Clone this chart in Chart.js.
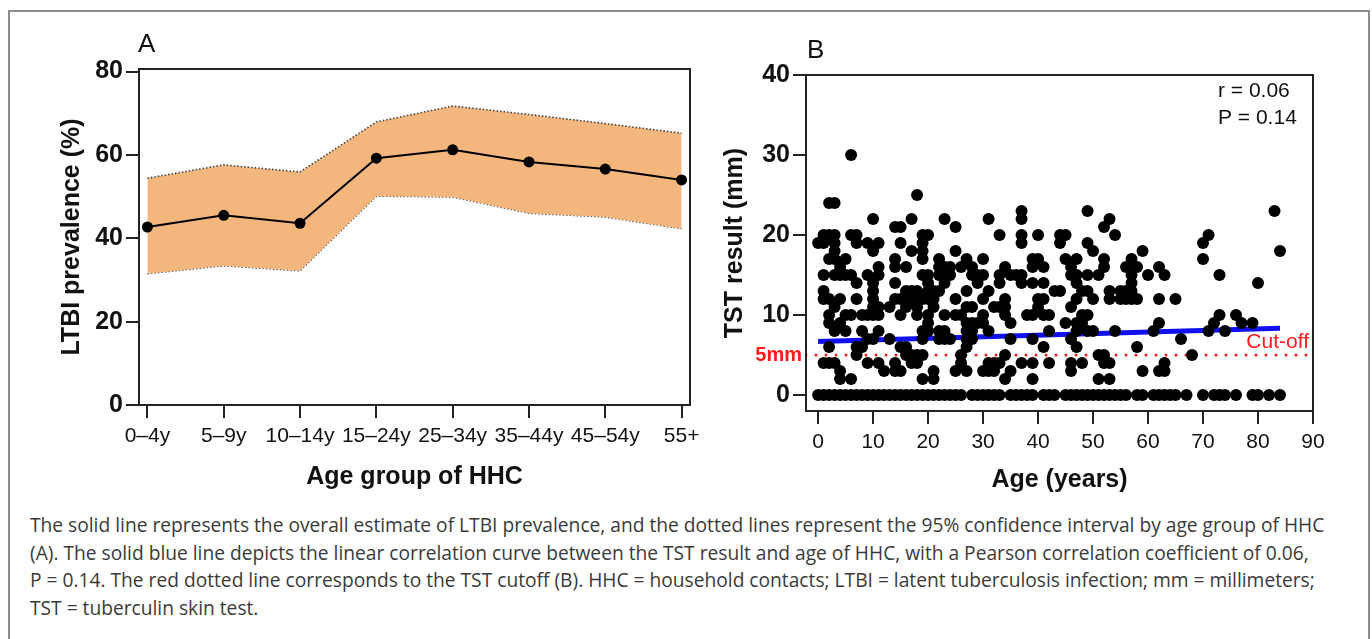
<!DOCTYPE html>
<html>
<head>
<meta charset="utf-8">
<script src="https://cdn.jsdelivr.net/npm/chart.js@4/dist/chart.umd.min.js"></script>
<style>
  html, body { margin: 0; padding: 0; background: #fff; }
  body { width: 1372px; height: 639px; position: relative; overflow: hidden; }
  .frame { position: absolute; left: 8px; top: 10px; width: 1358px; height: 700px; border: 2px solid #8c8c8c; }
  canvas { position: absolute; top: 0; }
  #chartA { left: 0; }
  #chartB { left: 700px; }
  .caption { position: absolute; left: 30px; top: 511px; font-family: "Open Sans", sans-serif; font-size: 19.2px; line-height: 27.7px; color: #3a3a3a; white-space: nowrap; }
</style>
</head>
<body>
<div class="frame"></div>
<canvas id="chartA" width="720" height="500"></canvas>
<canvas id="chartB" width="672" height="500"></canvas>
<div class="caption">
  <div>The solid line represents the overall estimate of LTBI prevalence, and the dotted lines represent the 95% confidence interval by age group of HHC</div>
  <div>(A). The solid blue line depicts the linear correlation curve between the TST result and age of HHC, with a Pearson correlation coefficient of 0.06,</div>
  <div>P = 0.14. The red dotted line corresponds to the TST cutoff (B). HHC = household contacts; LTBI = latent tuberculosis infection; mm = millimeters;</div>
  <div>TST = tuberculin skin test.</div>
</div>
<script>
// ---- Panel A: LTBI prevalence by age group ----
const ageGroups = ['0–4y', '5–9y', '10–14y', '15–24y', '25–34y', '35–44y', '45–54y', '55+'];
const prevalence = [42.7, 45.5, 43.6, 59.2, 61.2, 58.3, 56.6, 54.0];
const upperCI = [54.4, 57.6, 55.9, 67.9, 71.7, 69.7, 67.5, 65.2];
const lowerCI = [31.5, 33.4, 32.2, 50.1, 49.9, 46.0, 45.1, 42.3];
const prevTicks = [0, 20, 40, 60, 80];

// ---- Panel B: TST result vs age (one entry per household contact) ----
const ageYears = [
  0, 1, 1, 1, 1, 1, 1,
  2, 2, 2, 2, 2, 2, 2, 2,
  3, 3, 3, 3, 3, 3, 3, 3, 3,
  4, 4, 4, 4, 4, 4,
  5, 5, 5, 5,
  6, 6, 6, 6, 6,
  7, 7, 7, 7, 7, 7,
  8, 8, 8,
  9, 9, 9, 9, 9,
  10, 10, 10, 10, 10, 10, 10, 10,
  11, 11, 11, 11, 11, 11, 11,
  12, 13, 13,
  14, 14, 14, 14, 14, 14, 14,
  15, 15, 15, 15, 15, 15,
  16, 16, 16, 16, 16, 16,
  17, 17, 17, 17, 17, 17,
  18, 18, 18, 18, 18, 18, 18,
  19, 19, 19, 19, 19, 19, 19, 19, 19, 19,
  20, 20, 20, 20, 20, 20, 20, 20,
  21, 21, 21, 21, 21,
  22, 22, 22, 22, 22, 22,
  23, 23, 23, 23, 23, 23, 23,
  24, 24, 24,
  25, 25, 25, 25, 25,
  26, 26, 26, 26,
  27, 27, 27, 27, 27, 27, 27, 27,
  28, 28, 28, 28, 28, 28,
  29, 29, 29,
  30, 30, 30, 30, 30, 30,
  31, 31, 31, 31, 31,
  32, 32, 32,
  33, 33, 33, 33, 33,
  34, 34, 34, 34, 34, 34,
  35, 35, 35, 35,
  36,
  37, 37, 37, 37, 37, 37, 37,
  38,
  39, 39, 39, 39, 39, 39, 39,
  40, 40, 40, 40,
  41, 41, 41, 41, 41,
  42, 42, 42,
  43,
  44, 44, 44,
  45, 45, 45,
  46, 46, 46, 46, 46, 46,
  47, 47, 47, 47, 47, 47, 47,
  48, 48, 48, 48,
  49, 49, 49, 49, 49, 49,
  50, 50, 50,
  51, 51, 51,
  52, 52, 52, 52, 52,
  53, 53, 53, 53, 53,
  54, 54,
  55, 55,
  56, 56, 56,
  57, 57, 57, 57, 57, 57,
  58, 58, 58,
  59, 59,
  60, 61,
  62, 62, 62, 62,
  63, 63, 63,
  65, 66, 68,
  70, 70, 71, 71, 72, 73, 73, 74, 76, 77, 79, 80, 83, 84
];
const tstMm = [
  19, 20, 19, 15, 13, 12, 4,
  24, 20, 17, 12, 10, 9, 6, 4,
  24, 20, 19, 18, 17, 15, 11, 8, 4,
  16, 15, 12, 9, 3, 2,
  17, 15, 10, 8,
  30, 20, 15, 10, 2,
  20, 19, 14, 12, 6, 5,
  10, 8, 6,
  19, 15, 10, 7, 4,
  22, 18, 14, 13, 12, 11, 10, 7,
  19, 16, 15, 11, 10, 8, 4,
  3, 11, 7,
  21, 17, 16, 14, 12, 4, 3,
  21, 19, 12, 10, 6, 3,
  16, 13, 12, 11, 6, 5,
  22, 18, 13, 12, 5, 4,
  25, 13, 12, 11, 10, 5, 4,
  20, 19, 18, 17, 15, 12, 8, 7, 5, 2,
  20, 15, 14, 13, 12, 10, 9, 8,
  13, 12, 11, 3, 2,
  17, 16, 15, 13, 8, 7,
  22, 16, 15, 14, 10, 8, 7,
  16, 15, 7,
  21, 18, 12, 10, 3,
  16, 10, 5, 4,
  17, 13, 11, 9, 8, 7, 6, 3,
  16, 15, 11, 9, 8, 7,
  15, 14, 9,
  17, 15, 12, 10, 9, 3,
  22, 13, 8, 4, 3,
  11, 4, 3,
  20, 15, 14, 11, 4,
  16, 12, 11, 10, 5, 2,
  15, 9, 7, 3,
  15,
  23, 22, 20, 19, 15, 14, 4,
  10,
  17, 16, 14, 10, 7, 4, 2,
  20, 17, 12, 11,
  16, 14, 12, 10, 6,
  10, 8, 4,
  13,
  20, 19, 13,
  20, 17, 9,
  16, 15, 11, 7, 4, 3,
  17, 15, 14, 12, 9, 8, 6,
  13, 10, 9, 4,
  23, 19, 15, 13, 10, 8,
  18, 12, 8,
  15, 5, 2,
  21, 17, 16, 5, 4,
  22, 13, 12, 4, 2,
  20, 8,
  13, 12,
  16, 13, 12,
  17, 16, 15, 14, 13, 12,
  16, 12, 6,
  18, 3,
  15, 8,
  16, 12, 9, 3,
  15, 4, 3,
  12, 7, 5,
  19, 17, 20, 8, 9, 15, 10, 8, 10, 9, 9, 14, 23, 18
];
// contacts with a 0 mm reading (negative test)
const zeroAges = [
  0, 1, 2, 3, 4, 5, 6, 7, 8, 9, 10, 11, 12, 13, 14, 15, 16, 17, 18, 19, 20, 21, 22, 23, 24, 25, 26,
  28, 29, 30, 31, 32, 33, 35, 36, 37, 38, 39, 41, 42, 43,
  45, 46, 47, 48, 49, 50, 51, 52, 53, 54, 55, 56, 58, 59, 61, 62, 63, 64, 65, 67,
  70, 72, 73, 74, 76, 79, 80, 82, 84
];
const fitAge = [0, 84];
const fitMm = [6.68, 8.35];
const cutoffMm = 5;
const ageTicks = [0, 10, 20, 30, 40, 50, 60, 70, 80, 90];
const tstTicks = [0, 10, 20, 30, 40];

const AXIS = '#222222';
const bold25 = { family: 'Liberation Sans, Arial, sans-serif', size: 25, weight: 'bold' };
const plain21 = { family: 'Liberation Sans, Arial, sans-serif', size: 21 };

// draws the top and right sides of the plot box
const boxFrame = {
  id: 'boxFrame',
  afterDraw(chart) {
    const { ctx, chartArea: a } = chart;
    ctx.save();
    ctx.strokeStyle = AXIS;
    ctx.lineWidth = 2;
    ctx.strokeRect(a.left, a.top, a.right - a.left, a.bottom - a.top);
    ctx.restore();
  }
};

function axisStyle(tickValues, extra) {
  return Object.assign({
    grid: { display: true, drawOnChartArea: false, drawTicks: true, tickLength: 13, color: AXIS, lineWidth: 2 },
    border: { display: true, color: AXIS, width: 2 },
    afterBuildTicks(scale) { scale.ticks = tickValues.map(v => ({ value: v })); }
  }, extra);
}

// ---- Chart A ----
new Chart(document.getElementById('chartA'), {
  type: 'line',
  data: {
    datasets: [
      {
        data: upperCI.map((v, i) => ({ x: i, y: v })),
        borderColor: '#444',
        borderWidth: 1.6,
        borderDash: [1.5, 2],
        backgroundColor: '#F3B67D',
        fill: '+1',
        pointRadius: 0,
        tension: 0,
        order: 2
      },
      {
        data: lowerCI.map((v, i) => ({ x: i, y: v })),
        borderColor: '#444',
        borderWidth: 1.6,
        borderDash: [1.5, 2],
        fill: false,
        pointRadius: 0,
        tension: 0,
        order: 2
      },
      {
        data: prevalence.map((v, i) => ({ x: i, y: v })),
        borderColor: '#000',
        borderWidth: 2,
        pointRadius: 5.5,
        pointBackgroundColor: '#000',
        pointBorderWidth: 0,
        fill: false,
        tension: 0,
        order: 0
      }
    ]
  },
  options: {
    responsive: false,
    animation: false,
    layout: { padding: { left: 57, top: 69, right: 30, bottom: 0 } },
    plugins: {
      legend: { display: false },
      tooltip: { enabled: false }
    },
    scales: {
      x: axisStyle(ageGroups.map((g, i) => i), {
        type: 'linear',
        min: -0.11,
        max: 7.11,
        afterFit(scale) { scale.height = 95; },
        ticks: {
          color: '#111',
          font: plain21,
          padding: 6,
          maxRotation: 0,
          autoSkip: false,
          callback: (v) => ageGroups[v]
        },
        title: { display: true, text: 'Age group of HHC', color: '#111', font: bold25, padding: { top: 0, bottom: 8 } }
      }),
      y: axisStyle(prevTicks, {
        min: 0,
        max: 80.6,
        afterFit(scale) { scale.width = 82; },
        ticks: { color: '#111', font: bold25, padding: 3 },
        title: { display: true, text: 'LTBI prevalence (%)', color: '#111', font: bold25, padding: { top: 0, bottom: 0 } }
      })
    }
  },
  plugins: [boxFrame, {
    id: 'panelLabelA',
    afterDraw(chart) {
      const { ctx } = chart;
      ctx.save();
      ctx.fillStyle = '#111';
      ctx.font = '26px Liberation Sans, Arial, sans-serif';
      ctx.textAlign = 'left';
      ctx.textBaseline = 'middle';
      ctx.fillText('A', 138, 45);
      ctx.restore();
    }
  }]
});

// ---- Chart B ----
new Chart(document.getElementById('chartB'), {
  type: 'scatter',
  data: {
    datasets: [
      {
        data: ageYears.map((a, i) => ({ x: a, y: tstMm[i] }))
          .concat(zeroAges.map(a => ({ x: a, y: 0 }))),
        backgroundColor: '#000',
        borderWidth: 0,
        pointRadius: 6,
        order: 0
      },
      {
        type: 'line',
        data: fitAge.map((a, i) => ({ x: a, y: fitMm[i] })),
        borderColor: '#1010f0',
        borderWidth: 5,
        pointRadius: 0,
        order: 1
      },
      {
        type: 'line',
        data: [{ x: -2.2, y: cutoffMm }, { x: 90, y: cutoffMm }],
        borderColor: '#ff1a1a',
        borderWidth: 3,
        borderDash: [0, 10],
        borderCapStyle: 'round',
        pointRadius: 0,
        order: 2
      }
    ]
  },
  options: {
    responsive: false,
    animation: false,
    layout: { padding: { left: 20, top: 75, right: 59, bottom: 0 } },
    plugins: {
      legend: { display: false },
      tooltip: { enabled: false }
    },
    scales: {
      x: axisStyle(ageTicks, {
        type: 'linear',
        min: -2.2,
        max: 90,
        afterFit(scale) { scale.height = 89; },
        ticks: { color: '#111', font: plain21, padding: 6, maxRotation: 0, autoSkip: false },
        title: { display: true, text: 'Age (years)', color: '#111', font: bold25, padding: { top: 0, bottom: 5 } }
      }),
      y: axisStyle(tstTicks, {
        min: -2,
        max: 40,
        afterFit(scale) { scale.width = 86; },
        ticks: { color: '#111', font: bold25, padding: 3 },
        title: { display: true, text: 'TST result (mm)', color: '#111', font: bold25, padding: { top: 0, bottom: 0 } }
      })
    }
  },
  plugins: [boxFrame, {
    id: 'panelTextB',
    afterDraw(chart) {
      const { ctx, chartArea: a } = chart;
      const y = chart.scales.y;
      const yCut = y.getPixelForValue(cutoffMm);
      ctx.save();
      ctx.textBaseline = 'middle';
      ctx.fillStyle = '#111';
      ctx.font = '26px Liberation Sans, Arial, sans-serif';
      ctx.textAlign = 'left';
      ctx.fillText('B', a.left + 1, 51);
      ctx.font = '21px Liberation Sans, Arial, sans-serif';
      ctx.fillText('r = 0.06', 518, 91);
      ctx.fillText('P = 0.14', 518, 118);
      ctx.fillStyle = '#ff1a1a';
      ctx.textAlign = 'right';
      ctx.fillText('Cut-off', a.right - 4, yCut - 13);
      ctx.font = 'bold 20px Liberation Sans, Arial, sans-serif';
      ctx.fillText('5mm', a.left - 4, yCut);
      ctx.restore();
    }
  }]
});
</script>
</body>
</html>
